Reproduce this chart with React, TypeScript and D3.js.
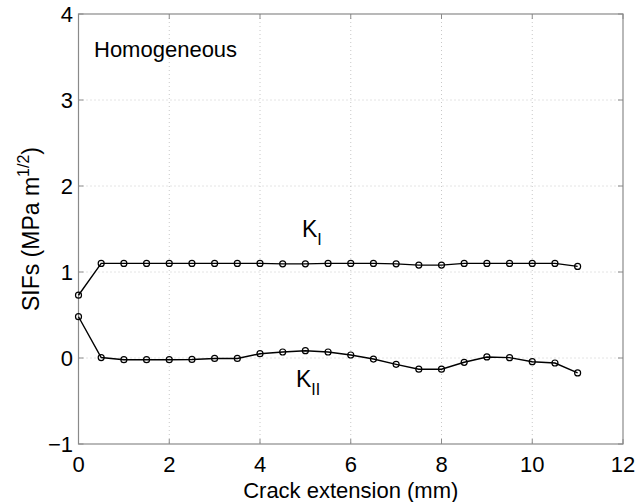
import React from "react";
import * as d3 from "d3";

const xValues = [0, 0.5, 1, 1.5, 2, 2.5, 3, 3.5, 4, 4.5, 5, 5.5, 6, 6.5, 7, 7.5, 8, 8.5, 9, 9.5, 10, 10.5, 11];
const kI = [0.73, 1.1, 1.1, 1.1, 1.1, 1.1, 1.1, 1.1, 1.1, 1.095, 1.095, 1.1, 1.1, 1.1, 1.095, 1.08, 1.08, 1.1, 1.1, 1.1, 1.1, 1.1, 1.065];
const kII = [0.48, 0.005, -0.02, -0.02, -0.02, -0.017, -0.005, -0.005, 0.05, 0.07, 0.085, 0.07, 0.035, -0.012, -0.074, -0.13, -0.13, -0.05, 0.012, 0.004, -0.043, -0.058, -0.174];
const xTicks = [0, 2, 4, 6, 8, 10, 12];
const yTicks = [-1, 0, 1, 2, 3, 4];

const W = 635, H = 502;
const L = 78.5, R = 623, T = 14, B = 444;
const FONT = "'Liberation Sans', Arial, Helvetica, sans-serif";

export default function App() {
  const x = d3.scaleLinear().domain([0, 12]).range([L, R]);
  const y = d3.scaleLinear().domain([-1, 4]).range([B, T]);
  const line = d3.line<number>().x((_, i) => x(xValues[i])).y((d) => y(d));
  const axisColor = "#8a8a8a";
  const series = [kI, kII];
  return (
    <svg width={W} height={H} style={{ position: "absolute", left: 0, top: 0, background: "#fff" }} fontFamily={FONT}>
      <rect x={0} y={0} width={W} height={H} fill="#fff" />
      {xTicks.slice(1, -1).map((t) => (
        <line key={"gx" + t} x1={x(t)} x2={x(t)} y1={T} y2={B} stroke="#c8c8c8" strokeDasharray="1,3" strokeWidth={1} />
      ))}
      {yTicks.slice(1, -1).map((t) => (
        <line key={"gy" + t} x1={L} x2={R} y1={y(t)} y2={y(t)} stroke="#c8c8c8" strokeDasharray="1,3" strokeWidth={1} />
      ))}
      <rect x={L} y={T} width={R - L} height={B - T} fill="none" stroke={axisColor} strokeWidth={1.2} />
      {xTicks.map((t) => (
        <g key={"tx" + t}>
          <line x1={x(t)} x2={x(t)} y1={B} y2={B - 5} stroke={axisColor} />
          <line x1={x(t)} x2={x(t)} y1={T} y2={T + 5} stroke={axisColor} />
          <text x={x(t)} y={472} fontSize={22} textAnchor="middle" fill="#000">{t}</text>
        </g>
      ))}
      {yTicks.map((t) => (
        <g key={"ty" + t}>
          <line x1={L} x2={L + 5} y1={y(t)} y2={y(t)} stroke={axisColor} />
          <line x1={R} x2={R - 5} y1={y(t)} y2={y(t)} stroke={axisColor} />
          <text x={73} y={y(t) + 8} fontSize={22} textAnchor="end" fill="#000">{t < 0 ? "\u2212" + Math.abs(t) : t}</text>
        </g>
      ))}
      {series.map((s, si) => (
        <g key={"s" + si}>
          <path d={line(s) || ""} fill="none" stroke="#000" strokeWidth={1.4} />
          {s.map((v, i) => (
            <circle key={i} cx={x(xValues[i])} cy={y(v)} r={3} fill="none" stroke="#000" strokeWidth={1.2} />
          ))}
        </g>
      ))}
      <text x={94} y={57} fontSize={22} fill="#000">Homogeneous</text>
      <text x={302} y={237} fontSize={23} fill="#000">K<tspan fontSize={16} dy={8}>I</tspan></text>
      <text x={296} y={387} fontSize={23} fill="#000">K<tspan fontSize={16} dy={8}>II</tspan></text>
      <text x={x(6)} y={498} fontSize={22} textAnchor="middle" fill="#000">Crack extension (mm)</text>
      <text transform={`translate(39,${(T + B) / 2}) rotate(-90)`} fontSize={23} textAnchor="middle" fill="#000">
        SIFs (MPa m<tspan fontSize={16} dy={-10}>1/2</tspan><tspan dy={10}>)</tspan>
      </text>
    </svg>
  );
}
